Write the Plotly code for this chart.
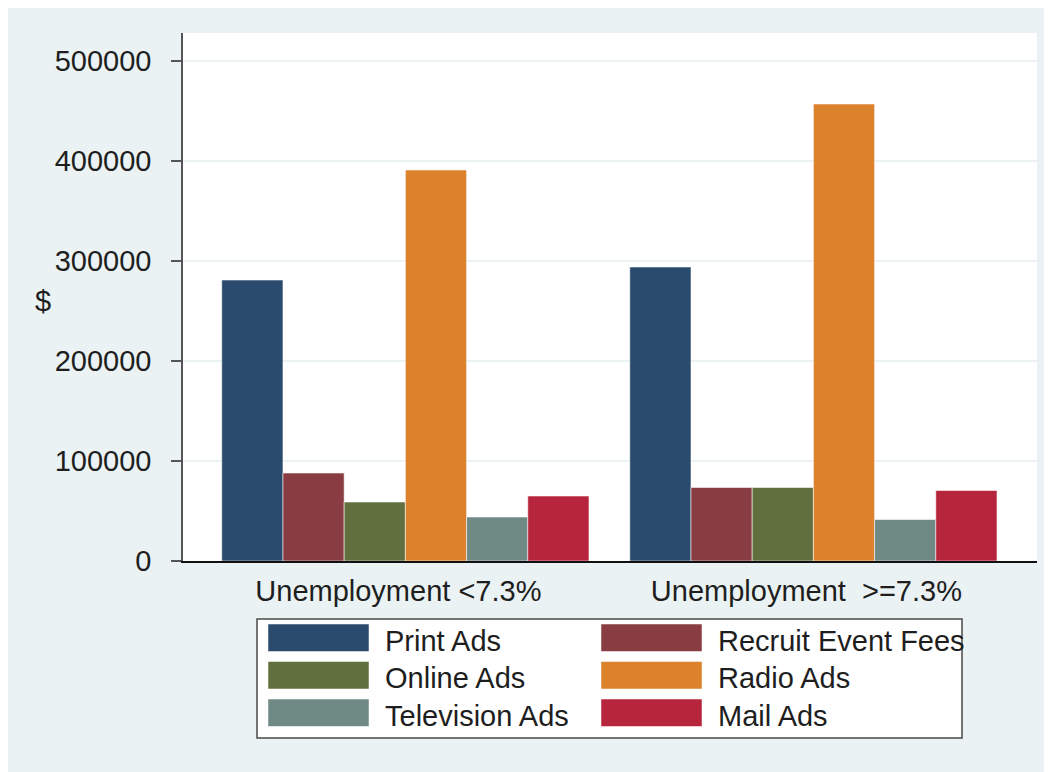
import plotly.graph_objects as go

# ---- data ----
categories = ["Unemployment <7.3%", "Unemployment  >=7.3%"]
series_names = ["Print Ads", "Recruit Event Fees", "Online Ads", "Radio Ads", "Television Ads", "Mail Ads"]
print_ads = [281000, 294000]
recruit_event_fees = [88000, 73500]
online_ads = [59000, 73500]
radio_ads = [391000, 457000]
television_ads = [44000, 41500]
mail_ads = [65000, 70500]
y_tickvals = [0, 100000, 200000, 300000, 400000, 500000]
y_ticktext = ["0", "100000", "200000", "300000", "400000", "500000"]

series_values = [print_ads, recruit_event_fees, online_ads, radio_ads, television_ads, mail_ads]
colors = ["#2A4A6E", "#893D42", "#606F3D", "#DC812C", "#6F8985", "#B7253C"]

# page offset (browser body margin)
OX, OY = 8, 8
W, H = 1052, 772
# plot area edges in page pixels
PL, PR, PT, PB = 183, 1037, 33, 561
L, R, T, B = PL - OX, PR - OX, PT - OY, PB - OY
BG = "#EAF2F3"
FONT = "Liberation Sans, Arial, Helvetica, sans-serif"
FS = 29
TXT = "#1e1e1e"

def px(x):
    return (x - PL) / (PR - PL)

def py(y):
    return (PB - y) / (PB - PT)

fig = go.Figure()
xpos = list(range(len(categories)))
for name, vals, col in zip(series_names, series_values, colors):
    fig.add_trace(go.Bar(
        x=xpos, y=vals, name=name, showlegend=False,
        marker=dict(color=col, line=dict(color="rgba(255,255,255,0.55)", width=1)),
    ))

shapes = []
annotations = []

# legend box
shapes.append(dict(type="rect", xref="paper", yref="paper", layer="above",
                   x0=px(257), x1=px(962), y0=py(738), y1=py(619),
                   fillcolor="white", line=dict(color="#4a4a4a", width=1.5)))
col_sw = [268, 601]
col_tx = [385, 718]
row_top = [624, 661.5, 699]
sw_w, sw_h = 101, 27.5
for i, (name, col) in enumerate(zip(series_names, colors)):
    r, c = divmod(i, 2)
    x0 = col_sw[c]
    y0 = row_top[r]
    shapes.append(dict(type="rect", xref="paper", yref="paper", layer="above",
                       x0=px(x0), x1=px(x0 + sw_w), y0=py(y0 + sw_h), y1=py(y0),
                       fillcolor=col, line=dict(color="rgba(255,255,255,0.5)", width=1)))
    annotations.append(dict(xref="paper", yref="paper", x=px(col_tx[c] - 2), y=py(y0 + sw_h / 2 + 3),
                            text=name, showarrow=False, xanchor="left", yanchor="middle",
                            font=dict(family=FONT, size=FS, color=TXT)))

# y-axis title, upright
annotations.append(dict(xref="paper", yref="paper", x=px(43), y=py(301), text="$",
                        showarrow=False, xanchor="center", yanchor="middle",
                        font=dict(family=FONT, size=FS, color=TXT)))

fig.update_layout(
    width=W, height=H,
    margin=dict(l=L, r=W - R, t=T, b=H - B, autoexpand=False),
    paper_bgcolor=BG, plot_bgcolor="white",
    barmode="group", bargap=0.1, bargroupgap=0,
    font=dict(family=FONT, size=FS, color=TXT),
    shapes=shapes, annotations=annotations,
    showlegend=False,
)
fig.update_xaxes(
    range=[-0.545, 1.548], tickvals=xpos, ticktext=categories,
    showgrid=False, zeroline=False, showline=True, linecolor="#111111", linewidth=1.5,
    ticks="", ticklabelstandoff=3, ticklabelshift=-7,
    tickfont=dict(family=FONT, size=FS, color=TXT),
)
fig.update_yaxes(
    range=[0, 528000], tickvals=y_tickvals, ticktext=y_ticktext,
    showgrid=True, gridcolor=BG, gridwidth=2, zeroline=False,
    showline=True, linecolor="#555555", linewidth=1.5,
    ticks="outside", ticklen=10, tickcolor="#555555", tickwidth=1.5,
    ticklabelstandoff=14,
    tickfont=dict(family=FONT, size=FS, color=TXT),
)

fig.write_html("out.html")
